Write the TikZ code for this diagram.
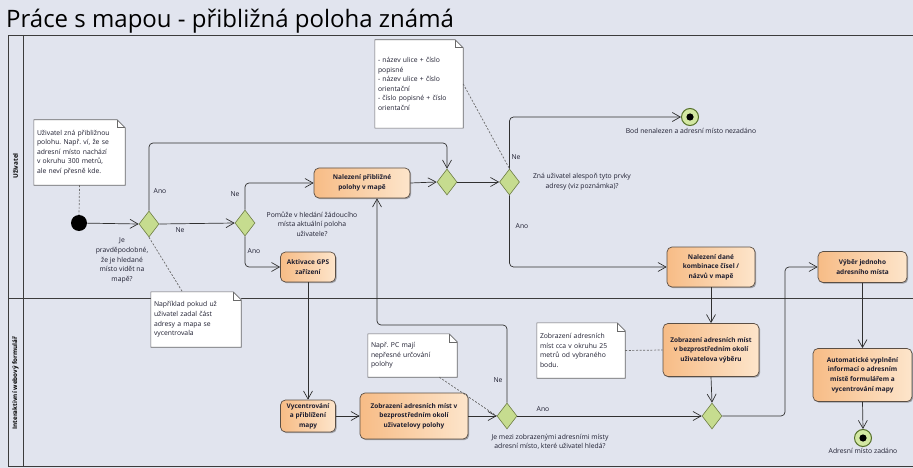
\documentclass[tikz,border=0pt]{standalone}
\usepackage{fontspec}
\setmainfont{Open Sans}
\usetikzlibrary{arrows.meta,shapes.geometric,shadows,calc}
\frenchspacing

\definecolor{canvas}{HTML}{E1E4EE}
\definecolor{frame}{HTML}{3C3C3C}
\definecolor{flowc}{HTML}{303030}
\definecolor{actL}{HTML}{F7BC86}
\definecolor{actR}{HTML}{FDE5CB}
\definecolor{actD}{HTML}{5A4E44}
\definecolor{decF}{HTML}{C6DC8F}
\definecolor{decD}{HTML}{6E7E45}
\definecolor{endF}{HTML}{D3E8A2}
\definecolor{endD}{HTML}{55702A}
\definecolor{noteD}{HTML}{6A6A6A}
\definecolor{txt}{HTML}{1E1E30}

% folded corner outline for a note node
\newcommand\notefold[1]{%
  \fill[canvas] ([xshift=-8pt]#1.north east) -- (#1.north east) -- ([yshift=-8pt]#1.north east) -- cycle;
  \draw[notedraw] (#1.north west) -- ([xshift=-8pt]#1.north east) -- ([yshift=-8pt]#1.north east)
    -- (#1.south east) -- (#1.south west) -- cycle;
  \draw[notedraw] ([xshift=-8pt]#1.north east) |- ([yshift=-8pt]#1.north east);}

\tikzset{
  action/.style={rectangle, rounded corners=5pt, draw=actD, line width=0.7pt,
    left color=actL, right color=actR, text=txt,
    font=\bfseries\fontsize{6.5}{9.6}\selectfont, align=center, inner sep=1pt,
    drop shadow={shadow xshift=1.2pt, shadow yshift=-1.2pt, opacity=0.3, fill=black}},
  decision/.style={diamond, draw=decD, fill=decF, line width=0.6pt,
    minimum width=20pt, minimum height=26pt, inner sep=0pt},
  initial/.style={circle, fill=black, minimum size=16pt, inner sep=0pt},
  final/.style={circle, draw=endD, fill=endF, line width=1pt, minimum size=17pt, inner sep=0pt,
    path picture={\fill[black] (path picture bounding box.center) circle (3.6pt);}},
  notebox/.style={rectangle, fill=white, inner sep=3pt, align=left, text=txt,
    font=\fontsize{6.8}{9.6}\selectfont},
  notedraw/.style={draw=noteD, line width=0.6pt},
  flow/.style={draw=flowc, line width=0.7pt, rounded corners=4pt,
    -{Straight Barb[length=8pt,width=9pt]}},
  link/.style={draw=noteD, line width=0.7pt, dash pattern=on 2pt off 1.6pt},
  lbl/.style={inner sep=0pt, text=txt, font=\fontsize{6.8}{9.6}\selectfont, align=center},
  lane/.style={rotate=90, inner sep=0pt, text=black, font=\bfseries\fontsize{6.3}{8}\selectfont}
}

\begin{document}
\begin{tikzpicture}[x=1pt, y=-1pt]
  % canvas
  \fill[canvas] (0,0) rectangle (913,468);
  \useasboundingbox (0,0) rectangle (913,468);

  \node[anchor=base west, inner sep=0pt, text=black, font=\fontsize{24}{28}\selectfont] (title) at (6,28)
    {Práce s mapou - přibližná poloha známá};

  % pool with two lanes
  \draw[frame, line width=0.8pt] (916,35) -- (8,35) -- (8,466) -- (916,466);
  \draw[frame, line width=0.8pt] (23,35) -- (23,466);
  \draw[frame, line width=0.8pt] (8,298) -- (916,298);
  \node[lane] (laneU) at (15.5,166) {Uživatel};
  \node[lane] (laneF) at (15.5,383) {Interaktivní webový formulář};

  % notes
  \node[notebox, text width=85pt, minimum height=65pt] (N1) at (79.5,152.5)
    {Uživatel zná přibližnou\\polohu. Např. ví, že se\\adresní místo nachází\\v okruhu 300 metrů,\\ale neví přesně kde.};
  \notefold{N1}
  \node[notebox, text width=82pt, minimum height=88pt] (N2) at (419,84)
    {- název ulice + číslo\\popisné\\- název ulice + číslo\\orientační\\- číslo popisné + číslo\\orientační};
  \notefold{N2}
  \node[notebox, text width=82pt, minimum height=55pt] (N3) at (581,350.5)
    {Zobrazení adresních\\míst cca v okruhu 25\\metrů od vybraného\\bodu.};
  \notefold{N3}
  \node[notebox, text width=83pt, minimum height=43pt] (N4) at (412.5,355.5)
    {Např. PC mají\\nepřesné určování\\polohy};
  \notefold{N4}
  \node[notebox, text width=84pt, minimum height=55pt] (N5) at (196,319.5)
    {Například pokud už\\uživatel zadal část\\adresy a mapa se\\vycentrovala};
  \notefold{N5}

  % start and end
  \node[initial] (S) at (79,223) {};
  \node[final] (E1) at (690,117) {};
  \node[final] (E2) at (863,438) {};
  \node[lbl] (E1t) at (691,131) {Bod nenalezen a adresní místo nezadáno};
  \node[lbl] (E2t) at (863,451) {Adresní místo zadáno};

  % decisions
  \node[decision] (D1) at (149,224) {};
  \node[decision] (D2) at (245,223) {};
  \node[decision] (D3) at (447,182) {};
  \node[decision] (D5) at (509.5,182) {};
  \node[decision] (D4) at (507,416) {};
  \node[decision] (D6) at (712,416) {};

  \node[lbl] (Q1) at (122,260.5) {Je\\pravděpodobné,\\že je hledané\\místo vidět na\\mapě?};
  \node[lbl] (Q2) at (312,224) {Pomůže v hledání žádoucího\\místa aktuální poloha\\uživatele?};
  \node[lbl] (Q5) at (582,182) {Zná uživatel alespoň tyto prvky\\adresy (viz poznámka)?};
  \node[lbl] (Q4) at (550,442) {Je mezi zobrazenými adresními místy\\adresní místo, které uživatel hledá?};

  % actions
  \node[action, minimum width=96pt, minimum height=30pt] (A1) at (362,183) {Nalezení přibližné\\polohy v mapě};
  \node[action, minimum width=55pt, minimum height=30pt] (A2) at (308,267) {Aktivace GPS\\zařízení};
  \node[action, minimum width=55pt, minimum height=32pt] (A3) at (308,416) {Vycentrování\\a přiblížení\\mapy};
  \node[action, minimum width=108pt, minimum height=46pt] (A4) at (414,416) {Zobrazení adresních míst v\\bezprostředním okolí\\uživatelovy polohy};
  \node[action, minimum width=88pt, minimum height=40pt] (A5) at (711,267) {Nalezení dané\\kombinace čísel /\\názvů v mapě};
  \node[action, minimum width=96pt, minimum height=53pt] (A6) at (711,350) {Zobrazení adresních míst\\v bezprostředním okolí\\uživatelova výběru};
  \node[action, minimum width=89pt, minimum height=31pt] (A7) at (862.5,267) {Výběr jednoho\\adresního místa};
  \node[action, minimum width=99pt, minimum height=53pt] (A8) at (862.5,375) {Automatické vyplnění\\informací o adresním\\místě formulářem a\\vycentrování mapy};

  % bend points
  \coordinate (k1) at (149,143);
  \coordinate (k2) at (447,143);
  \coordinate (k3) at (507,325);
  \coordinate (k4) at (377,325);
  \coordinate (k5) at (785,267);

  % control flow
  \draw[flow] (S) -- (D1.west);
  \draw[flow] (D1.north) -- (k1) -- (k2) -- (D3.north);
  \draw[flow] (D1.east) -- (D2.west);
  \draw[flow] (D2.north) |- (A1.west);
  \draw[flow] (D2.south) |- (A2.west);
  \draw[flow] (A2.south) -- (A3.north);
  \draw[flow] (A3.east) -- (A4.west);
  \draw[flow] (A4.east) -- (D4.west);
  \draw[flow] (D4.north) -- (k3) -- (k4) -- (k4 |- A1.south);
  \draw[flow] (D4.east) -- (D6.west);
  \draw[flow] (A1.east) -- (D3.west);
  \draw[flow] (D3.east) -- (D5.west);
  \draw[flow] (D5.north) |- (E1.west);
  \draw[flow] (D5.south) |- (A5.west);
  \draw[flow] (A5.south) -- (A6.north);
  \draw[flow] (A6.south) -- (D6.north);
  \draw[flow] (D6.east) -| (k5) -- (A7.west);
  \draw[flow] (A7.south) -- (A8.north);
  \draw[flow] (A8.south) -- (E2.north);

  % guard labels
  \node[lbl] (g1) at (160,191) {Ano};
  \node[lbl] (g2) at (180,230) {Ne};
  \node[lbl] (g3) at (235,194) {Ne};
  \node[lbl] (g4) at (254,251) {Ano};
  \node[lbl] (g5) at (516,157) {Ne};
  \node[lbl] (g6) at (522,226) {Ano};
  \node[lbl] (g7) at (498,380) {Ne};
  \node[lbl] (g8) at (543,409) {Ano};

  % note attachments
  \draw[link] (N1.south) -- (S.north);
  \draw[link] (D1.south) -- ($(N5.north west)!0.35!(N5.north east)$);
  \draw[link] (N2.east) -- (D5.north);
  \draw[link] ($(N4.south)!0.6!(N4.south east)$) -- (D4.west);
  \draw[link] (N3.east) -- (A6.west);
\end{tikzpicture}
\end{document}
